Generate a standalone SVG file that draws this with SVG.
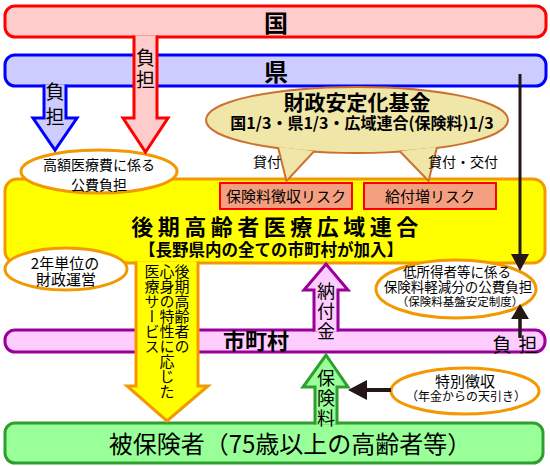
<svg xmlns="http://www.w3.org/2000/svg" width="550" height="466" viewBox="0 0 550 466">
<style>
text{font-family:"Noto Sans CJK JP","Noto Sans",sans-serif;fill:#000;text-anchor:middle}
.b{font-weight:bold}
.ell{fill:#fff;stroke:#f39800;stroke-width:3}
.risk{fill:#f4a080;stroke:#ff0000;stroke-width:2}
.blk{stroke:#231815;fill:none}
.blkh{fill:#231815}
.vt{writing-mode:vertical-rl;text-anchor:start;font-size:15px}
</style>
<rect width="550" height="466" fill="#fff"/>
<g id="kuni">
<rect x="5" y="6" width="541" height="31" rx="10" fill="#ffcccc" stroke="#ff0000" stroke-width="3"/>
<text x="276" y="32" class="b" font-size="24">国</text>
</g>
<g id="ken">
<rect x="5" y="55" width="541" height="31" rx="10" fill="#ccccff" stroke="#0000ff" stroke-width="3"/>
<text x="276" y="81" class="b" font-size="24">県</text>
</g>
<g id="kouiki">
<rect x="5" y="179" width="540" height="84" rx="12" fill="#ffff00" stroke="#f39800" stroke-width="3"/>
<rect x="220" y="183" width="132" height="26" class="risk"/>
<text x="286" y="202" font-size="15">保険料徴収リスク</text>
<rect x="364" y="183" width="132" height="26" class="risk"/>
<text x="430" y="202" font-size="15">給付増リスク</text>
<text x="277" y="235" class="b" font-size="22" letter-spacing="4.5">後期高齢者医療広域連合</text>
<text x="271" y="256" class="b" font-size="16.5">【長野県内の全ての市町村が加入】</text>
</g>
<g id="kougaku">
<ellipse cx="99" cy="171.5" rx="78" ry="21.5" class="ell"/>
<text x="99" y="170" font-size="14">高額医療費に係る</text>
<text x="99" y="190" font-size="14">公費負担</text>
</g>
<g id="kikin">
<g stroke="#cc7030" stroke-width="4" fill="#efe6a8">
<ellipse cx="357" cy="120" rx="150" ry="32"/>
<path d="M279,147 L287,179 L313,151 Z"/>
<path d="M401,151 L428,179 L436,147 Z"/>
</g>
<g fill="#efe6a8">
<ellipse cx="357" cy="120" rx="150" ry="32"/>
<path d="M279,147 L287,179 L313,151 Z"/>
<path d="M401,151 L428,179 L436,147 Z"/>
</g>
<text x="357" y="110" class="b" font-size="21">財政安定化基金</text>
<text x="362" y="129" class="b" font-size="16">国1/3・県1/3・広域連合(保険料)1/3</text>
<text x="267" y="167" font-size="14">貸付</text>
<text x="463" y="167" font-size="14">貸付・交付</text>
</g>
<g id="zaisei">
<ellipse cx="66" cy="269" rx="61" ry="21" class="ell"/>
<text x="65" y="269" font-size="15">2年単位の</text>
<text x="66" y="285" font-size="15">財政運営</text>
</g>
<g id="teishotoku">
<ellipse cx="456" cy="289" rx="80" ry="29" class="ell"/>
<text x="457" y="277" font-size="13.5">低所得者等に係る</text>
<text x="458" y="292" font-size="13.5">保険料軽減分の公費負担</text>
<text x="460" y="306" font-size="11.5">（保険料基盤安定制度）</text>
</g>
<g id="shichoson">
<rect x="5" y="330" width="540" height="22" rx="10" fill="#ffccff" stroke="#990099" stroke-width="3"/>
<text x="256" y="349" class="b" font-size="22">市町村</text>
<text x="502" y="352" font-size="19">負</text>
<text x="528" y="352" font-size="19">担</text>
</g>
<g id="tokubetsu">
<ellipse cx="465" cy="391" rx="74" ry="23" class="ell"/>
<text x="465" y="387" font-size="15">特別徴収</text>
<text x="466" y="401" font-size="12">（年金からの天引き）</text>
</g>
<g id="hihoken">
<rect x="5" y="423" width="538" height="40" rx="10" fill="#99ff99" stroke="#2e9e2e" stroke-width="3"/>
<text x="290" y="453" font-size="24">被保険者（75歳以上の高齢者等）</text>
</g>
<g id="connectors">
<path d="M44,84.5 V118 H33 L55,150 L77,118 H66 V84.5" fill="#ccccff" stroke="#0000ff" stroke-width="3"/>
<text x="55" y="99" font-size="19">負</text>
<text x="55" y="124" font-size="19">担</text>
<path d="M134,35.5 V118 H123 L145.5,152 L168,118 H157 V35.5" fill="#ffcccc" stroke="#ff0000" stroke-width="3"/>
<text x="145.5" y="65" font-size="19">負</text>
<text x="145.5" y="87" font-size="19">担</text>
<path d="M136,261.5 V386 H127 L167,421 L208,386 H198 V261.5" fill="#ffff00" stroke="#f39800" stroke-width="3"/>
<text x="182" y="264" class="vt">後期高齢者の</text>
<text x="167" y="264" class="vt">心身の特性に応じた</text>
<text x="152" y="264" class="vt">医療サービス</text>
<path d="M314,331.5 V290 H304 L326,264 L348,290 H338 V331.5" fill="#ffccff" stroke="#990099" stroke-width="3"/>
<text x="326" y="298" font-size="18">納</text>
<text x="326" y="318" font-size="18">付</text>
<text x="326" y="338" font-size="18">金</text>
<path d="M315,424.5 V387 H303 L326,355 L348,387 H337 V424.5" fill="#99ff99" stroke="#2e9e2e" stroke-width="3"/>
<text x="326" y="385" font-size="18">保</text>
<text x="326" y="405" font-size="18">険</text>
<text x="326" y="425" font-size="18">料</text>
<line x1="520" y1="74" x2="520" y2="256" class="blk" stroke-width="3"/>
<path d="M511,254 H529 L520,271 Z" class="blkh"/>
<line x1="520" y1="338" x2="520" y2="316" class="blk" stroke-width="3.5"/>
<path d="M511,319 H529 L520,304 Z" class="blkh"/>
<line x1="391" y1="390" x2="365" y2="390" class="blk" stroke-width="4"/>
<path d="M367,380 V400 L348,390 Z" class="blkh"/>
</g>
</svg>
